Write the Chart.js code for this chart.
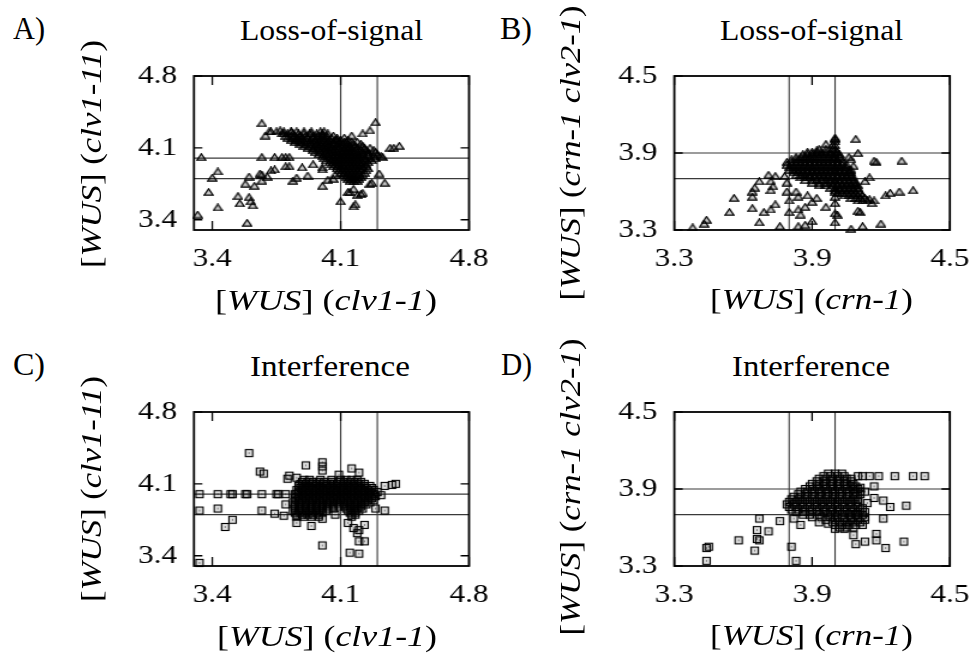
<!DOCTYPE html>
<html>
<head>
<meta charset="utf-8">
<script src="https://cdn.jsdelivr.net/npm/chart.js@4.4.1/dist/chart.umd.min.js"></script>
<style>
  html, body { margin: 0; padding: 0; background: #fff; }
  body { width: 971px; height: 657px; position: relative; overflow: hidden; font-family: "Liberation Serif", serif; color: #000; }
  .plot { position: absolute; transform-origin: 0 0; transform: scaleX(1.2); }
  .lbl { position: absolute; white-space: nowrap; line-height: 1; transform-origin: 0 0; }
  .rot { position: absolute; white-space: nowrap; line-height: 1; transform-origin: 50% 50%; }
</style>
</head>
<body>
<div class="plot" style="left:100px;top:56px"><canvas id="chartA" width="325" height="230"></canvas></div>
<div class="plot" style="left:580px;top:56px"><canvas id="chartB" width="326" height="230"></canvas></div>
<div class="plot" style="left:100px;top:392px"><canvas id="chartC" width="325" height="230"></canvas></div>
<div class="plot" style="left:580px;top:392px"><canvas id="chartD" width="326" height="230"></canvas></div>
<script>
// axes
const clvRange = [3.3, 4.8];
const crnRange = [3.3, 4.5];
const clvTicks = [3.4, 4.1, 4.8];
const crnTicks = [3.3, 3.9, 4.5];

// reference lines
const clvRefX = [4.1, 4.3];
const clvRefY = [3.8, 4.0];
const crnRefX = [3.8, 4.0];
const crnRefY = [3.7, 3.9];

// A) loss-of-signal, clv1-1 vs clv1-11
const lossA_sparse = [
  [3.67,4.34],[4.29,4.35],[4.26,4.27],[4.22,4.24],[4.16,4.22],[4.42,4.12],[4.39,4.1],[4.37,4.1],[4.33,4.01],
  [3.34,4.01],[3.67,4.01],[3.74,4.01],[3.78,4.01],[3.8,4.01],[3.82,4.01],
  [3.43,3.87],[3.4,3.81],[3.6,3.82],[3.66,3.85],[3.67,3.84],[3.7,3.82],[3.72,3.88],[3.74,3.89],[3.8,3.92],[3.82,3.92],[3.89,3.91],[3.95,3.94],
  [3.58,3.75],[3.63,3.73],[3.67,3.78],[3.84,3.78],[3.86,3.81],[3.92,3.83],[4.0,3.73],
  [3.38,3.67],[3.54,3.63],[3.55,3.56],[3.6,3.62],[3.61,3.58],[3.62,3.54],[3.43,3.52],[3.32,3.45],[3.59,3.37],
  [4.1,3.58],[4.17,3.53],[4.18,3.55],[4.19,3.64],[4.21,3.65],[4.15,3.67],[4.17,3.7],[4.26,3.75],[4.34,3.76],[4.31,3.85],
  [4.07,3.84],[4.06,3.8],[4.03,3.79],[4.0,3.91],[4.0,3.89],[4.14,3.67],[4.22,3.66],[4.27,3.76],
  [3.71,4.26],[3.69,4.22],[3.77,4.27],[3.79,4.24],[3.83,4.26],[3.88,4.22],[3.94,4.24],[4.0,4.23],[4.08,4.18],[4.13,4.16]
];
const lossA_core = [
  [4.26, [3.72,3.75,3.79,3.83,3.86,3.9,3.94,3.99,4.01]],
  [4.24, [3.78,3.81,3.84,3.87,3.9,3.93,3.97,4.0,4.03]],
  [4.22, [3.8,3.83,3.85,3.88,3.91,3.95,3.98,4.0,4.02,4.06]],
  [4.2,  [3.81,3.84,3.86,3.89,3.92,3.95,3.97,4.0,4.02,4.05,4.08,4.12]],
  [4.18, [3.83,3.86,3.88,3.91,3.94,3.96,3.99,4.01,4.04,4.07,4.1,4.14]],
  [4.16, [3.85,3.88,3.9,3.93,3.96,3.98,4.01,4.03,4.06,4.09,4.12,4.16,4.19]],
  [4.14, [3.88,3.91,3.94,3.97,3.99,4.02,4.04,4.06,4.09,4.11,4.14,4.17,4.21]],
  [4.12, [3.9,3.93,3.96,3.98,4.01,4.03,4.05,4.08,4.1,4.13,4.15,4.18,4.22]],
  [4.1,  [3.92,3.95,3.98,4.0,4.02,4.05,4.07,4.09,4.12,4.14,4.16,4.19,4.23,4.26]],
  [4.08, [3.95,3.98,4.01,4.03,4.05,4.07,4.1,4.12,4.14,4.16,4.18,4.21,4.24,4.28]],
  [4.06, [3.96,3.99,4.02,4.04,4.06,4.08,4.11,4.13,4.15,4.17,4.19,4.22,4.25,4.29]],
  [4.04, [3.98,4.01,4.03,4.05,4.07,4.09,4.11,4.13,4.15,4.17,4.2,4.22,4.25,4.3]],
  [4.02, [4.0,4.03,4.06,4.08,4.1,4.12,4.14,4.16,4.18,4.2,4.22,4.25,4.28,4.32]],
  [4.0,  [4.01,4.04,4.06,4.08,4.1,4.12,4.14,4.16,4.18,4.2,4.23,4.26,4.29]],
  [3.98, [4.02,4.05,4.07,4.09,4.11,4.13,4.15,4.17,4.19,4.21,4.24,4.27]],
  [3.96, [4.04,4.06,4.08,4.1,4.12,4.14,4.16,4.18,4.2,4.22,4.25]],
  [3.94, [4.05,4.07,4.09,4.11,4.13,4.15,4.17,4.19,4.21,4.24]],
  [3.92, [4.06,4.08,4.1,4.12,4.14,4.16,4.18,4.2,4.22,4.24]],
  [3.9,  [4.08,4.1,4.12,4.14,4.16,4.18,4.2,4.22,4.25]],
  [3.88, [4.09,4.11,4.13,4.15,4.17,4.19,4.21,4.24]],
  [3.86, [4.1,4.12,4.14,4.16,4.18,4.2,4.23]],
  [3.84, [4.12,4.14,4.16,4.18,4.2,4.22]],
  [3.82, [4.13,4.15,4.17,4.19,4.21]],
  [3.8,  [4.14,4.16,4.18,4.2]],
  [3.78, [4.15,4.17,4.19]]
];

// B) loss-of-signal, crn-1 vs crn-1 clv2-1
const lossB_sparse = [
  [4.0,4.01],[4.09,4.01],[3.96,3.97],[3.92,3.92],[4.06,3.87],[4.1,3.9],[4.17,3.84],[4.18,3.83],[4.29,3.84],[4.07,3.85],
  [4.08,3.8],[4.07,3.77],[4.15,3.71],[4.13,3.68],[4.34,3.61],[4.24,3.59],[4.22,3.57],[4.28,3.6],[4.17,3.53],[4.16,3.51],[4.15,3.54],
  [4.11,3.44],[4.1,3.45],[4.2,3.35],[4.12,3.33],[4.07,3.31],[4.0,3.36],[4.0,3.43],[4.0,3.51],[4.0,3.56],[4.0,3.6],[4.01,3.42],
  [3.96,3.48],[3.9,3.37],[3.87,3.34],[3.84,3.33],[3.85,3.42],[3.84,3.46],[3.87,3.48],[3.9,3.52],[3.92,3.55],[3.88,3.57],
  [3.84,3.56],[3.83,3.6],[3.79,3.6],[3.79,3.67],[3.78,3.72],[3.76,3.33],[3.74,3.5],[3.72,3.46],[3.69,3.44],[3.67,3.36],
  [3.64,3.47],[3.64,3.56],[3.64,3.6],[3.65,3.63],[3.67,3.68],[3.71,3.73],[3.74,3.72],[3.72,3.68],[3.73,3.64],[3.72,3.61],
  [3.56,3.55],[3.54,3.44],[3.44,3.38],[3.43,3.35],[3.38,3.32],[3.8,3.53],[3.8,3.44]
];
const lossB_core = [
  [4.02, [4.0]],
  [3.99, [4.0]],
  [3.96, [3.99,4.0]],
  [3.93, [3.93,3.96,3.99,4.0]],
  [3.91, [3.88,3.9,3.92,3.94,3.96,3.98,4.0,4.01]],
  [3.89, [3.86,3.88,3.9,3.92,3.94,3.96,3.98,4.0,4.02]],
  [3.87, [3.83,3.85,3.87,3.89,3.91,3.93,3.95,3.97,3.99,4.0,4.02]],
  [3.85, [3.81,3.83,3.85,3.87,3.89,3.91,3.93,3.95,3.97,3.99,4.01,4.03]],
  [3.83, [3.79,3.81,3.83,3.85,3.87,3.89,3.91,3.93,3.95,3.97,3.99,4.01,4.03]],
  [3.81, [3.79,3.81,3.83,3.85,3.87,3.89,3.91,3.93,3.95,3.97,3.99,4.01,4.03,4.05]],
  [3.79, [3.8,3.82,3.84,3.86,3.88,3.9,3.92,3.94,3.96,3.98,4.0,4.02,4.04,4.05]],
  [3.77, [3.8,3.82,3.84,3.86,3.88,3.9,3.92,3.94,3.96,3.98,4.0,4.02,4.04,4.06]],
  [3.75, [3.82,3.84,3.86,3.88,3.9,3.92,3.94,3.96,3.98,4.0,4.02,4.04,4.06,4.07]],
  [3.73, [3.83,3.85,3.87,3.89,3.91,3.93,3.95,3.97,3.99,4.01,4.03,4.05,4.07]],
  [3.71, [3.85,3.87,3.89,3.91,3.93,3.95,3.97,3.99,4.01,4.03,4.05,4.07,4.08]],
  [3.69, [3.87,3.9,3.92,3.94,3.96,3.98,4.0,4.02,4.04,4.06,4.08]],
  [3.67, [3.9,3.93,3.96,3.98,4.0,4.02,4.04,4.06,4.08,4.09]],
  [3.65, [3.93,3.96,3.99,4.01,4.03,4.05,4.07,4.09,4.1]],
  [3.63, [3.98,4.0,4.02,4.04,4.06,4.08,4.1]],
  [3.61, [4.0,4.02,4.04,4.06,4.08,4.1]],
  [3.59, [4.01,4.03,4.05,4.07,4.09,4.11]],
  [3.57, [4.04,4.06,4.08,4.1,4.12]],
  [3.55, [4.07,4.09,4.11,4.13]],
  [3.53, [4.1,4.12,4.14]]
];

// C) interference, clv1-1 vs clv1-11
const interC_sparse = [
  [3.6,4.4],[3.66,4.22],[3.68,4.2],[3.91,4.28],[4.0,4.31],[4.0,4.27],[4.0,4.23],[4.16,4.25],[4.2,4.21],[4.09,4.19],[3.81,4.15],[3.82,4.18],[3.86,4.16],
  [3.33,4.0],[3.43,4.0],[3.5,4.0],[3.51,4.0],[3.58,4.0],[3.59,4.0],[3.67,4.0],[3.75,4.0],[3.76,4.0],[3.8,4.0],[3.85,4.0],
  [3.33,3.84],[3.43,3.86],[3.67,3.84],[3.74,3.81],[3.79,3.79],[3.8,3.9],[4.34,3.84],
  [3.51,3.75],[3.47,3.68],[3.86,3.72],[3.94,3.69],[4.0,3.5],[4.0,3.76],[4.07,3.8],[4.14,3.72],[4.17,3.67],[4.2,3.65],[4.23,3.7],
  [4.19,3.62],[4.2,3.54],[4.23,3.54],[4.15,3.43],[4.2,3.42],[3.33,3.33],[4.29,3.86],[4.32,3.99],[4.34,4.08],[4.38,4.09],[4.4,4.1]
];
const interC_core = [
  [4.14, [3.9,3.93,3.99,4.05,4.1,4.13,4.16,4.19]],
  [4.12, [3.89,3.92,3.95,3.98,4.01,4.05,4.09,4.12,4.15,4.18,4.21]],
  [4.1,  [3.88,3.91,3.94,3.97,4.0,4.03,4.06,4.08,4.11,4.14,4.17,4.2,4.23]],
  [4.08, [3.87,3.9,3.93,3.96,3.99,4.02,4.05,4.08,4.11,4.14,4.17,4.2,4.23,4.26]],
  [4.06, [3.88,3.91,3.94,3.97,4.0,4.03,4.06,4.09,4.12,4.15,4.18,4.21,4.24,4.27]],
  [4.04, [3.86,3.89,3.92,3.95,3.98,4.01,4.04,4.07,4.1,4.13,4.16,4.19,4.22,4.25,4.28]],
  [4.02, [3.87,3.9,3.93,3.96,3.99,4.02,4.05,4.08,4.11,4.14,4.17,4.2,4.23,4.26,4.3]],
  [4.0,  [3.86,3.89,3.92,3.95,3.98,4.01,4.04,4.07,4.1,4.13,4.16,4.19,4.22,4.25,4.28]],
  [3.98, [3.87,3.9,3.93,3.96,3.99,4.02,4.05,4.08,4.11,4.14,4.17,4.2,4.23,4.26,4.29]],
  [3.96, [3.85,3.88,3.91,3.94,3.97,4.0,4.03,4.06,4.09,4.12,4.15,4.18,4.21,4.24,4.27]],
  [3.94, [3.86,3.89,3.92,3.95,3.98,4.01,4.04,4.07,4.1,4.13,4.16,4.19,4.22,4.25,4.28]],
  [3.92, [3.84,3.87,3.9,3.93,3.96,3.99,4.02,4.05,4.08,4.11,4.14,4.17,4.2,4.23,4.26]],
  [3.9,  [3.85,3.88,3.91,3.94,3.97,4.0,4.03,4.06,4.09,4.12,4.15,4.18,4.21,4.24]],
  [3.88, [3.85,3.88,3.91,3.94,3.97,4.0,4.03,4.06,4.09,4.12,4.15,4.18,4.21]],
  [3.86, [3.85,3.88,3.91,3.94,3.97,4.0,4.03,4.06,4.13,4.16,4.19,4.22]],
  [3.84, [3.84,3.87,3.9,3.93,3.96,3.99,4.02,4.14,4.17,4.2]],
  [3.82, [3.85,3.88,3.91,3.94,3.97,4.0,4.15,4.18]],
  [3.8,  [3.86,3.89,3.92,3.95,3.98,4.16,4.18]],
  [3.78, [3.86,3.9,3.94,3.98,4.16]]
];

// D) interference, crn-1 vs crn-1 clv2-1
const interD_sparse = [
  [4.1,4.0],[4.12,4.0],[4.15,4.0],[4.19,4.0],[4.26,4.0],[4.34,4.0],[4.39,4.0],[4.17,3.92],[4.11,3.91],[4.13,3.88],
  [4.17,3.83],[4.21,3.81],[4.24,3.76],[4.31,3.77],[4.21,3.67],[4.14,3.79],[4.12,3.75],[4.09,3.7],[4.18,3.55],[4.18,3.5],
  [4.22,3.44],[4.3,3.49],[4.09,3.47],[4.13,3.49],[4.08,3.54],[4.04,3.59],[4.0,3.59],[3.93,3.64],[3.97,3.63],[3.85,3.62],
  [3.82,3.67],[3.76,3.65],[3.67,3.67],[3.66,3.58],[3.66,3.51],[3.67,3.5],[3.65,3.42],[3.71,3.57],[3.58,3.5],[3.45,3.45],
  [3.44,3.44],[3.44,3.34],[3.81,3.45],[3.83,3.34]
];
const interD_core = [
  [4.02, [3.97,4.0,4.03]],
  [4.0,  [3.95,3.98,4.01,4.04]],
  [3.98, [3.93,3.96,3.99,4.02,4.05,4.07]],
  [3.96, [3.92,3.95,3.98,4.01,4.04,4.07]],
  [3.94, [3.9,3.93,3.96,3.99,4.02,4.05,4.08]],
  [3.92, [3.89,3.92,3.95,3.98,4.01,4.04,4.07,4.09]],
  [3.9,  [3.87,3.9,3.93,3.96,3.99,4.02,4.05,4.08,4.1]],
  [3.88, [3.85,3.88,3.91,3.94,3.97,4.0,4.03,4.06,4.09,4.11]],
  [3.86, [3.84,3.87,3.9,3.93,3.96,3.99,4.02,4.05,4.08,4.11]],
  [3.84, [3.82,3.85,3.88,3.91,3.94,3.97,4.0,4.03,4.06,4.09]],
  [3.82, [3.81,3.84,3.87,3.9,3.93,3.96,3.99,4.02,4.05,4.08,4.1]],
  [3.8,  [3.8,3.83,3.86,3.89,3.92,3.95,3.98,4.01,4.04,4.07,4.1]],
  [3.78, [3.79,3.82,3.85,3.88,3.91,3.94,3.97,4.0,4.03,4.06,4.09]],
  [3.76, [3.8,3.83,3.86,3.89,3.92,3.95,3.98,4.01,4.04,4.07,4.1]],
  [3.74, [3.81,3.84,3.87,3.9,3.93,3.96,3.99,4.02,4.05,4.08,4.11]],
  [3.72, [3.83,3.86,3.89,3.92,3.95,3.98,4.01,4.04,4.07,4.1,4.13]],
  [3.7,  [3.86,3.89,3.93,3.97,4.0,4.03,4.06,4.09,4.12]],
  [3.68, [3.9,3.94,3.98,4.01,4.04,4.07,4.1,4.13]],
  [3.66, [3.96,4.0,4.04,4.07,4.1,4.13]],
  [3.64, [3.99,4.02,4.05,4.08,4.11]],
  [3.62, [4.0,4.03,4.06,4.09,4.12]],
  [3.6,  [4.02,4.05,4.08]]
];

function flattenRows(rows) {
  return rows.flatMap(([y, xs]) => xs.map(x => [x, y]));
}

// open triangle marker
function triangleMarker() {
  const c = document.createElement('canvas');
  c.width = 9; c.height = 8;
  const g = c.getContext('2d');
  g.strokeStyle = '#000';
  g.fillStyle = 'rgba(0,0,0,0.22)';
  g.lineWidth = 1.25;
  g.beginPath();
  g.moveTo(4.5, 0.8); g.lineTo(8.2, 7.2); g.lineTo(0.8, 7.2); g.closePath();
  g.fill();
  g.stroke();
  return c;
}

// open square marker with a dot in the middle
function squareMarker() {
  const c = document.createElement('canvas');
  c.width = 9; c.height = 10;
  const g = c.getContext('2d');
  g.fillStyle = 'rgba(0,0,0,0.12)';
  g.fillRect(1.5, 1.5, 6, 7);
  g.strokeStyle = '#000';
  g.lineWidth = 1.15;
  g.strokeRect(1.5, 1.5, 6, 7);
  g.fillStyle = '#222';
  g.fillRect(4, 4.5, 1, 1);
  return c;
}

// frame + inward tick marks, gnuplot style
const framePlugin = {
  id: 'frame',
  afterDraw(chart) {
    const { ctx, chartArea: a, scales: { x, y } } = chart;
    ctx.save();
    ctx.strokeStyle = '#000';
    ctx.lineWidth = 1.3;
    ctx.beginPath();
    x.ticks.forEach(t => {
      const px = x.getPixelForValue(t.value);
      ctx.moveTo(px, a.bottom); ctx.lineTo(px, a.bottom - 9);
      ctx.moveTo(px, a.top); ctx.lineTo(px, a.top + 9);
    });
    y.ticks.forEach(t => {
      const py = y.getPixelForValue(t.value);
      ctx.moveTo(a.left, py); ctx.lineTo(a.left + 7, py);
      ctx.moveTo(a.right, py); ctx.lineTo(a.right - 7, py);
    });
    ctx.stroke();
    ctx.lineWidth = 1.8;
    ctx.strokeRect(a.left, a.top, a.right - a.left, a.bottom - a.top);
    ctx.restore();
  }
};

const tickFont = { family: 'Liberation Serif', size: 26 };

function refLine(p1, p2) {
  return {
    data: [p1, p2], showLine: true, pointRadius: 0,
    borderColor: '#3a3a3a', borderWidth: 1.1, order: 2
  };
}

function drawPanel(id, points, marker, xr, yr, ticks, refX, refY, box) {
  const canvas = document.getElementById(id);
  const W = canvas.width, H = canvas.height;
  new Chart(canvas, {
    type: 'scatter',
    data: {
      datasets: [
        {
          data: points.map(p => ({ x: p[0], y: p[1] })),
          pointStyle: marker, pointRadius: 4, clip: false, order: 1
        },
        ...refX.map(v => refLine({ x: v, y: yr[0] }, { x: v, y: yr[1] })),
        ...refY.map(v => refLine({ x: xr[0], y: v }, { x: xr[1], y: v }))
      ]
    },
    options: {
      responsive: false,
      animation: false,
      events: [],
      layout: { padding: { left: 0, top: box.top, right: W - box.right, bottom: 0 } },
      plugins: { legend: { display: false }, tooltip: { enabled: false } },
      scales: {
        x: {
          type: 'linear', min: xr[0], max: xr[1],
          grid: { display: false, drawTicks: false },
          border: { display: false },
          afterBuildTicks: s => { s.ticks = ticks.map(v => ({ value: v })); },
          afterFit: s => { s.height = H - box.bottom; s.paddingLeft = 0; s.paddingRight = 0; },
          ticks: { font: tickFont, color: '#000', padding: 14, maxRotation: 0, autoSkip: false, callback: v => v.toFixed(1) }
        },
        y: {
          type: 'linear', min: yr[0], max: yr[1],
          grid: { display: false, drawTicks: false },
          border: { display: false },
          afterBuildTicks: s => { s.ticks = ticks.map(v => ({ value: v })); },
          afterFit: s => { s.width = box.left; s.paddingTop = 0; s.paddingBottom = 0; },
          ticks: { font: tickFont, color: '#000', padding: 14, autoSkip: false, callback: v => v.toFixed(1) }
        }
      }
    },
    plugins: [framePlugin]
  });
}

const boxLeftCol = { left: 78.3, right: 307.5, top: 20, bottom: 174 };
const boxRightCol = { left: 78.6, right: 308.2, top: 20, bottom: 174 };

drawPanel('chartA', lossA_sparse.concat(flattenRows(lossA_core)), triangleMarker(), clvRange, clvRange, clvTicks, clvRefX, clvRefY, boxLeftCol);
drawPanel('chartB', lossB_sparse.concat(flattenRows(lossB_core)), triangleMarker(), crnRange, crnRange, crnTicks, crnRefX, crnRefY, boxRightCol);
drawPanel('chartC', interC_sparse.concat(flattenRows(interC_core)), squareMarker(), clvRange, clvRange, clvTicks, clvRefX, clvRefY, boxLeftCol);
drawPanel('chartD', interD_sparse.concat(flattenRows(interD_core)), squareMarker(), crnRange, crnRange, crnTicks, crnRefX, crnRefY, boxRightCol);

// text: letters, titles and axis titles
function addLabel(html, left, baseline, width, size) {
  const el = document.createElement('div');
  el.className = 'lbl';
  el.innerHTML = html;
  el.style.fontSize = size + 'px';
  document.body.appendChild(el);
  const nat = el.getBoundingClientRect().width;
  el.style.left = left + 'px';
  el.style.top = (baseline - 0.8375 * size) + 'px';
  el.style.transform = 'scaleX(' + (width / nat).toFixed(4) + ')';
}

function addRotated(html, cx, cy, length, size) {
  const el = document.createElement('div');
  el.className = 'rot';
  el.innerHTML = html;
  el.style.fontSize = size + 'px';
  document.body.appendChild(el);
  const nat = el.getBoundingClientRect().width;
  el.style.left = (cx - nat / 2) + 'px';
  el.style.top = (cy - size / 2) + 'px';
  el.style.transform = 'rotate(-90deg) scaleX(' + (length / nat).toFixed(4) + ')';
}

const clvX = '[<i>WUS</i>] (<i>clv1-1</i>)';
const clvY = '[<i>WUS</i>] (<i>clv1-11</i>)';
const crnX = '[<i>WUS</i>] (<i>crn-1</i>)';
const crnY = '[<i>WUS</i>] (<i>crn-1 clv2-1</i>)';

addLabel('A)', 13, 39, 32, 31);
addLabel('B)', 500, 39, 32, 31);
addLabel('C)', 13, 375, 32, 31);
addLabel('D)', 501, 375, 31, 31);

addLabel('Loss-of-signal', 240, 40, 183, 29);
addLabel('Loss-of-signal', 720, 40, 183, 29);
addLabel('Interference', 250, 376, 160, 29);
addLabel('Interference', 732, 376, 158, 29);

addLabel(clvX, 215, 310, 222, 30);
addLabel(crnX, 710, 309, 203, 30);
addLabel(clvX, 217, 646, 220, 30);
addLabel(crnX, 710, 645, 203, 30);

addRotated(clvY, 91.5, 154, 228, 30);
addRotated(crnY, 570.5, 152.5, 295, 30);
addRotated(clvY, 91.5, 489, 226, 30);
addRotated(crnY, 570.5, 486.5, 297, 30);
</script>
</body>
</html>
